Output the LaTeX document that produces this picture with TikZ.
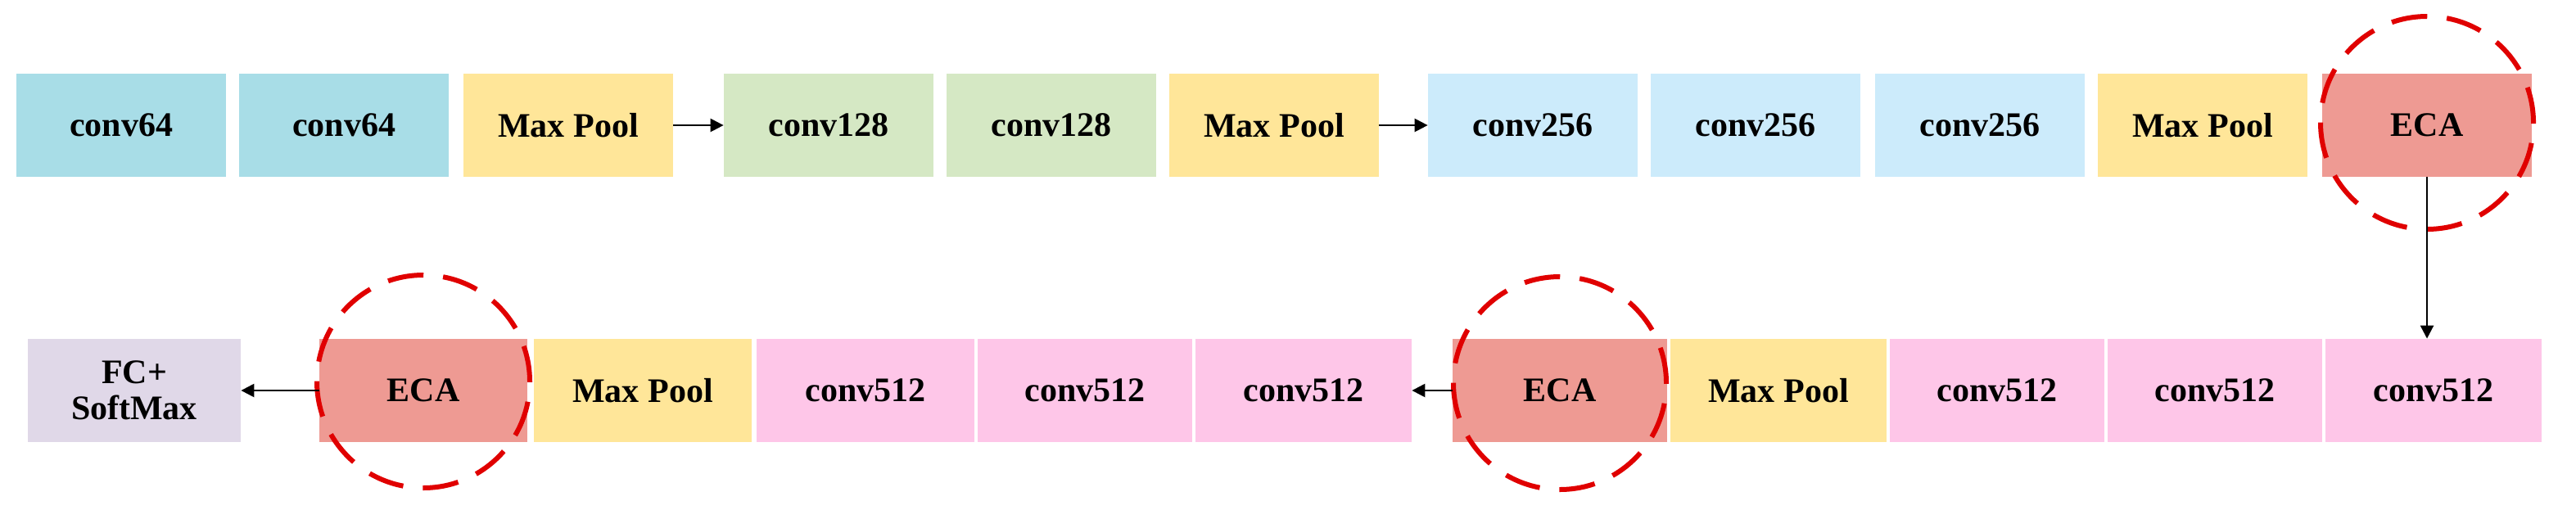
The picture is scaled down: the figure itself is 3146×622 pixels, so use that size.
\documentclass[tikz,border=0pt]{standalone}
\usepackage{fontspec}
\setmainfont{Liberation Serif}
\usetikzlibrary{arrows.meta}
\definecolor{cA}{HTML}{A8DDE7}
\definecolor{cY}{HTML}{FFE699}
\definecolor{cG}{HTML}{D5E8C4}
\definecolor{cB}{HTML}{CCEBFB}
\definecolor{cR}{HTML}{EE9A93}
\definecolor{cP}{HTML}{FEC6E8}
\definecolor{cV}{HTML}{E0D8E8}
\definecolor{dred}{HTML}{E00000}
\begin{document}
\begin{tikzpicture}[x=0.5pt,y=-0.5pt,
  box/.style={minimum width=128pt,minimum height=63pt,inner sep=0pt,draw=none,align=center,font=\fontsize{21}{22}\selectfont\bfseries},
  arr/.style={line width=1.2pt,-{Triangle[length=8pt,width=8pt]}},
  ring/.style={draw=dred,line width=3pt,dash pattern=on 22pt off 12pt}]
\useasboundingbox (0,0) rectangle (3146,622);
% top row
\node[box,fill=cA] (a1) at (148,153) {conv64};
\node[box,fill=cA] (a2) at (420,153) {conv64};
\node[box,fill=cY] (a3) at (694,153) {Max Pool};
\node[box,fill=cG] (b1) at (1012,153) {conv128};
\node[box,fill=cG] (b2) at (1284,153) {conv128};
\node[box,fill=cY] (b3) at (1556,153) {Max Pool};
\node[box,fill=cB] (c1) at (1872,153) {conv256};
\node[box,fill=cB] (c2) at (2144,153) {conv256};
\node[box,fill=cB] (c3) at (2418,153) {conv256};
\node[box,fill=cY] (c4) at (2690,153) {Max Pool};
\node[box,fill=cR] (e1) at (2964,153) {ECA};
% bottom row
\node[box,fill=cV,minimum width=130pt] (fc) at (164,477) {FC+\\SoftMax};
\node[box,fill=cR,minimum width=127pt] (e3) at (517,477) {ECA};
\node[box,fill=cY,minimum width=133pt] (m3) at (785,477) {Max Pool};
\node[box,fill=cP,minimum width=133pt] (d1) at (1057,477) {conv512};
\node[box,fill=cP,minimum width=131pt] (d2) at (1325,477) {conv512};
\node[box,fill=cP,minimum width=132pt] (d3) at (1592,477) {conv512};
\node[box,fill=cR,minimum width=131pt] (e2) at (1905,477) {ECA};
\node[box,fill=cY,minimum width=132pt] (m2) at (2172,477) {Max Pool};
\node[box,fill=cP,minimum width=131pt] (f1) at (2439,477) {conv512};
\node[box,fill=cP,minimum width=131pt] (f2) at (2705,477) {conv512};
\node[box,fill=cP,minimum width=132pt] (f3) at (2972,477) {conv512};
% rings
\draw[ring] (2964,150) circle[radius=65pt];
\draw[ring] (1905,468) circle[radius=65pt];
\draw[ring] (517,466) circle[radius=65pt];
% arrows
\draw[arr] (a3) -- (b1);
\draw[arr] (b3) -- (c1);
\draw[arr] (e1.south) -- (e1.south |- f3.north);
\draw[arr] (e2) -- (d3);
\draw[arr] (e3) -- (fc);
\end{tikzpicture}
\end{document}
